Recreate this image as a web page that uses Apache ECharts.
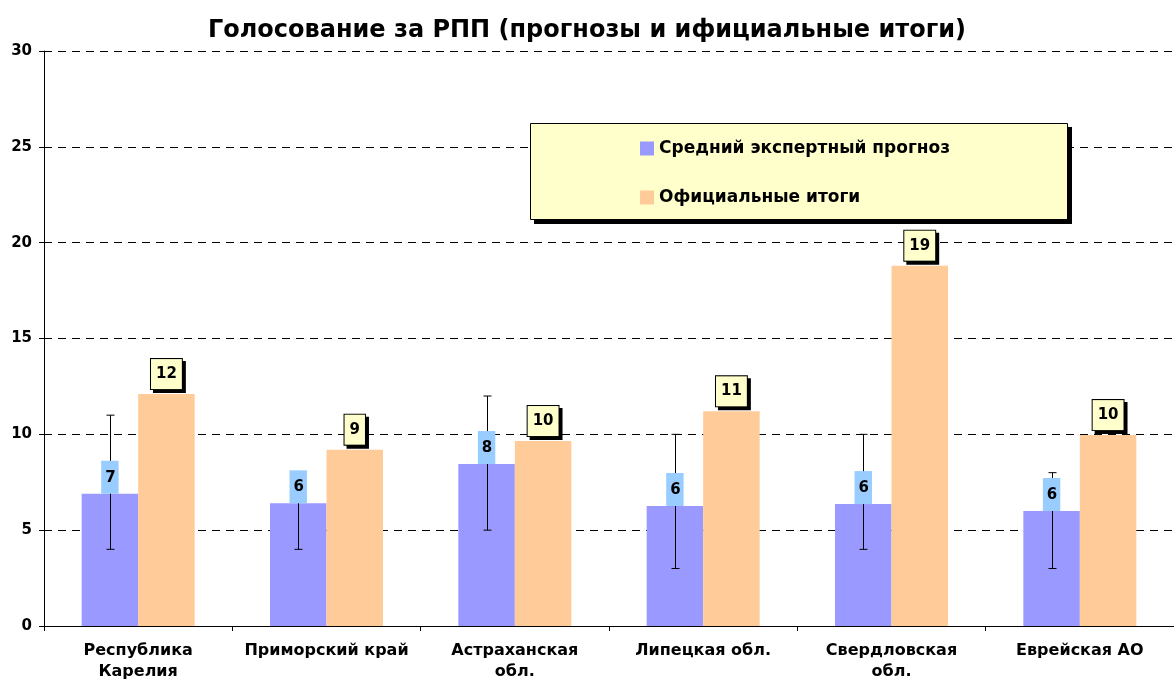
<!DOCTYPE html>
<html>
<head>
<meta charset="utf-8">
<script src="https://cdn.jsdelivr.net/npm/echarts@6/dist/echarts.min.js"></script>
<style>
  html, body { margin: 0; padding: 0; background: #fff; }
  #chart { width: 1174px; height: 687px; }
</style>
</head>
<body>
<div id="chart"></div>
<script>
// Regions (categories)
var regions = ['Республика\nКарелия', 'Приморский край', 'Астраханская\nобл.', 'Липецкая обл.', 'Свердловская\nобл.', 'Еврейская АО'];
// Average expert forecast and official results, %
var forecast = [6.9, 6.4, 8.45, 6.26, 6.36, 6.0];
var official = [12.1, 9.2, 9.65, 11.2, 18.8, 9.96];
// Spread of expert forecasts (min / max)
var forecastMin = [4, 4, 5, 3, 4, 3];
var forecastMax = [11, 8, 12, 10, 10, 8];
var yTicks = [0, 5, 10, 15, 20, 25, 30];

var font = 'DejaVu Sans, Liberation Sans, sans-serif';
var dom = document.getElementById('chart');
var myChart = echarts.init(dom, null, { renderer: 'canvas' });

var errData = regions.map(function (r, i) {
  return [i, forecastMin[i], forecastMax[i]];
});

// whisker for the forecast bar (left bar in each group)
function renderError(params, api) {
  var idx = api.value(0);
  var lo = api.coord([idx, api.value(1)]);
  var hi = api.coord([idx, api.value(2)]);
  var band = api.size([1, 0])[0];
  var x = Math.round(lo[0] - band * 0.15) + 0.5;
  var cap = 4;
  var style = { stroke: '#000', lineWidth: 1 };
  return {
    type: 'group',
    children: [
      { type: 'line', z2: 1, shape: { x1: x, y1: hi[1], x2: x, y2: lo[1] }, style: style },
      { type: 'line', z2: 1, shape: { x1: x - cap, y1: hi[1], x2: x + cap, y2: hi[1] }, style: style },
      { type: 'line', z2: 1, shape: { x1: x - cap, y1: lo[1], x2: x + cap, y2: lo[1] }, style: style }
    ]
  };
}

var option = {
  backgroundColor: '#fff',
  animation: false,
  textStyle: { fontFamily: font },
  title: {
    text: 'Голосование за РПП (прогнозы и ифициальные итоги)',
    left: 'center',
    top: 14,
    textStyle: { fontFamily: font, fontWeight: 'bold', fontSize: 24, color: '#000' }
  },
  // legend box with a hard drop shadow
  graphic: [
    { type: 'rect', z: 3, silent: true, shape: { x: 534, y: 127, width: 538, height: 97 }, style: { fill: '#000' } },
    { type: 'rect', z: 3, silent: true, shape: { x: 530.5, y: 123.5, width: 537, height: 96 }, style: { fill: '#ffffcc', stroke: '#000', lineWidth: 1 } }
  ],
  legend: {
    orient: 'vertical',
    left: 640,
    top: 140,
    padding: 0,
    itemGap: 32,
    itemWidth: 14,
    itemHeight: 14,
    icon: 'rect',
    textStyle: { fontFamily: font, fontWeight: 'bold', fontSize: 17, lineHeight: 17, color: '#000' },
    data: ['Средний экспертный прогноз', 'Официальные итоги']
  },
  grid: { left: 44, right: 0, top: 51, bottom: 61 },
  xAxis: {
    type: 'category',
    data: regions,
    axisLine: { lineStyle: { color: '#000', width: 1 } },
    axisTick: { show: true, length: 5, lineStyle: { color: '#000' } },
    axisLabel: {
      interval: 0,
      margin: 14,
      fontFamily: font,
      fontWeight: 'bold',
      fontSize: 16,
      lineHeight: 21,
      color: '#000'
    }
  },
  yAxis: {
    type: 'value',
    min: yTicks[0],
    max: yTicks[yTicks.length - 1],
    interval: 5,
    axisLine: { show: true, lineStyle: { color: '#000', width: 1 } },
    axisTick: { show: true, length: 5, lineStyle: { color: '#000' } },
    axisLabel: { margin: 12, fontFamily: font, fontWeight: 'bold', fontSize: 15, color: '#000' },
    splitLine: { show: true, lineStyle: { color: '#000', type: [8, 6], width: 1 } }
  },
  series: [
    {
      name: 'Средний экспертный прогноз',
      type: 'bar',
      data: forecast,
      barGap: '0%',
      barCategoryGap: '40%',
      itemStyle: { color: '#9999ff' },
      label: {
        show: true,
        position: 'top',
        distance: 0,
        formatter: function (p) { return Math.round(p.value); },
        backgroundColor: '#99ccff',
        padding: [8, 3, 7, 4],
        fontFamily: font,
        fontWeight: 'bold',
        fontSize: 15,
        lineHeight: 18,
        color: '#000'
      }
    },
    {
      name: 'Официальные итоги',
      type: 'bar',
      data: official,
      itemStyle: { color: '#ffcc99' },
      label: {
        show: true,
        position: 'top',
        distance: 5,
        formatter: function (p) { return Math.round(p.value); },
        backgroundColor: '#ffffcc',
        borderColor: '#000',
        borderWidth: 1,
        padding: [6, 5, 6, 5],
        shadowColor: '#000',
        shadowBlur: 0,
        shadowOffsetX: 3,
        shadowOffsetY: 3,
        fontFamily: font,
        fontWeight: 'bold',
        fontSize: 15,
        lineHeight: 18,
        color: '#000'
      }
    },
    {
      name: 'spread',
      type: 'custom',
      renderItem: renderError,
      data: errData,
      encode: { x: 0, y: [1, 2] },
      silent: true
    }
  ]
};

myChart.setOption(option);
</script>
</body>
</html>
